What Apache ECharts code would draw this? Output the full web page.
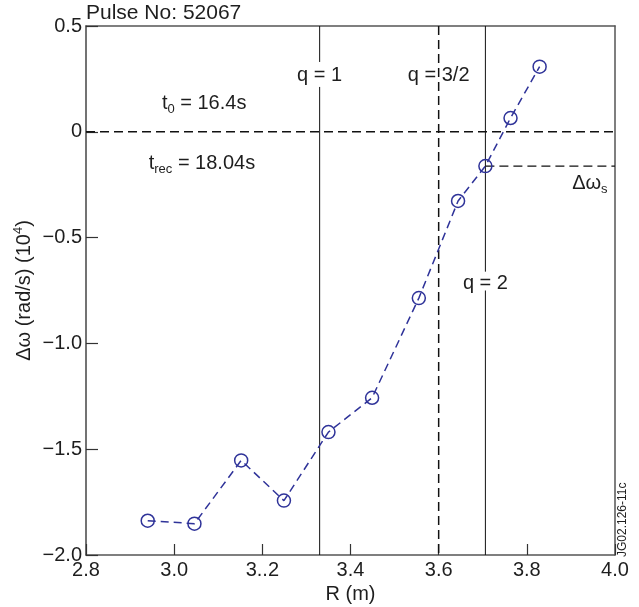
<!DOCTYPE html>
<html>
<head>
<meta charset="utf-8">
<title>Pulse No: 52067</title>
<script src="https://cdn.jsdelivr.net/npm/echarts@6/dist/echarts.min.js"></script>
<style>
  html, body { margin: 0; padding: 0; background: #fff; }
  #chart { width: 639px; height: 607px; }
</style>
</head>
<body>
<div id="chart"></div>
<script>
// Rotation shear profile across the major radius
const radius = [2.940, 3.046, 3.152, 3.249, 3.350, 3.449, 3.555, 3.644, 3.706, 3.763, 3.829];
const deltaOmega = [-1.838, -1.852, -1.553, -1.743, -1.419, -1.257, -0.786, -0.327, -0.162, 0.065, 0.308];

// Axis tick labels
const xTickLabels = ['2.8', '3.0', '3..2', '3.4', '3.6', '3.8', '4.0'];
const yTickLabels = ['\u22122.0', '\u22121.5', '\u22121.0', '\u22120.5', '0', '0.5'];

// Rational surface positions (m)
const qOneR = 3.33;
const qThreeHalvesR = 3.60;
const qTwoR = 3.706;
// Shear value at the q = 2 surface
const deltaOmegaS = -0.162;

const FONT = '"Liberation Sans", Arial, Helvetica, sans-serif';
const INK = '#1e1e1e';
const BLUE = '#2f3399';

const mainRich = {
  t: { fontSize: 20, fontFamily: FONT, color: INK, lineHeight: 26, verticalAlign: 'middle', textBorderWidth: 0 },
  s: { fontSize: 13, fontFamily: FONT, color: INK, lineHeight: 14, verticalAlign: 'bottom', textBorderWidth: 0 }
};

function refLine(data, dashed, width) {
  return {
    type: 'line',
    data: data,
    symbol: 'none',
    silent: true,
    animation: false,
    z: 1,
    lineStyle: { color: '#111', width: width, type: dashed ? [9, 5] : 'solid' }
  };
}

const chart = echarts.init(document.getElementById('chart'), null, { renderer: 'canvas' });

chart.setOption({
  animation: false,
  backgroundColor: '#fff',
  title: {
    text: 'Pulse No: 52067',
    left: 86,
    top: 3,
    padding: 0,
    textStyle: { fontSize: 21, fontWeight: 'normal', fontFamily: FONT, color: INK }
  },
  grid: { left: 86, right: 24, top: 26, bottom: 52, containLabel: false, outerBoundsMode: 'none' },
  xAxis: [{
    type: 'value',
    position: 'bottom',
    min: 2.8,
    max: 4.0,
    interval: 0.2,
    name: 'R (m)',
    nameLocation: 'middle',
    nameGap: 25,
    nameTextStyle: { fontSize: 20, fontFamily: FONT, color: INK },
    axisLine: { show: true, onZero: false, lineStyle: { color: '#555', width: 1.5 } },
    axisTick: { show: true, inside: true, length: 11, lineStyle: { color: '#333', width: 1.2 } },
    axisLabel: {
      margin: 5,
      fontSize: 20,
      fontFamily: FONT,
      color: INK,
      formatter: function (v) { return xTickLabels[Math.round((v - 2.8) / 0.2)]; }
    },
    splitLine: { show: false }
  }, {
    type: 'value',
    position: 'top',
    min: 2.8,
    max: 4.0,
    axisLine: { show: true, onZero: false, lineStyle: { color: '#555', width: 1.5 } },
    axisTick: { show: false },
    axisLabel: { show: false },
    splitLine: { show: false }
  }],
  yAxis: [{
    type: 'value',
    position: 'left',
    min: -2.0,
    max: 0.5,
    interval: 0.5,
    name: '{a|\u0394\u03c9 (rad/s) (10}{b|4}{a|)}',
    nameLocation: 'middle',
    nameGap: 50,
    nameMoveOverlap: false,
    nameTextStyle: {
      rich: {
        a: { fontSize: 20, fontFamily: FONT, color: INK, lineHeight: 24, verticalAlign: 'middle' },
        b: { fontSize: 13, fontFamily: FONT, color: INK, lineHeight: 14, verticalAlign: 'top' }
      }
    },
    axisLine: { show: true, onZero: false, lineStyle: { color: '#444', width: 1.5 } },
    axisTick: { show: true, inside: true, length: 12, lineStyle: { color: '#333', width: 1.2 } },
    axisLabel: {
      margin: 4,
      fontSize: 20,
      fontFamily: FONT,
      color: INK,
      formatter: function (v) { return yTickLabels[Math.round((v + 2.0) / 0.5)]; }
    },
    splitLine: { show: false }
  }, {
    type: 'value',
    position: 'right',
    min: -2.0,
    max: 0.5,
    axisLine: { show: true, onZero: false, lineStyle: { color: '#555', width: 1.5 } },
    axisTick: { show: false },
    axisLabel: { show: false },
    splitLine: { show: false }
  }],
  graphic: [{
    type: 'text',
    x: 623,
    y: 557,
    rotation: Math.PI / 2,
    style: {
      text: 'JG02.126-11c',
      fontSize: 12,
      fontFamily: FONT,
      fill: INK,
      align: 'left',
      verticalAlign: 'middle'
    }
  }],
  series: [
    // zero level
    refLine([[2.8, 0], [4.0, 0]], true, 1.4),
    // q = 1 surface, broken around its label
    refLine([[qOneR, 0.5], [qOneR, 0.33], ['-', '-'], [qOneR, 0.212], [qOneR, -2.0]], false, 1),
    // q = 3/2 surface
    refLine([[qThreeHalvesR, 0.5], [qThreeHalvesR, -2.0]], true, 1.5),
    // q = 2 surface, broken around its label
    refLine([[qTwoR, 0.5], [qTwoR, -0.661], ['-', '-'], [qTwoR, -0.75], [qTwoR, -2.0]], false, 1),
    // shear level at q = 2
    refLine([[qTwoR, deltaOmegaS], [4.0, deltaOmegaS]], true, 1.4),
    {
      type: 'line',
      name: 'profile',
      data: radius.map(function (r, i) { return [r, deltaOmega[i]]; }),
      symbol: 'circle',
      symbolSize: 13,
      z: 3,
      lineStyle: { color: BLUE, width: 1.5, type: [8, 5] },
      itemStyle: { color: 'rgba(0,0,0,0)', borderColor: BLUE, borderWidth: 1.5 }
    },
    {
      type: 'scatter',
      name: 'annotations',
      symbol: 'circle',
      symbolSize: 1,
      itemStyle: { color: 'rgba(0,0,0,0)' },
      silent: true,
      z: 4,
      label: {
        show: true,
        position: 'inside',
        color: INK,
        opacity: 1,
        textBorderWidth: 0,
        rich: mainRich
      },
      data: [
        { value: [qOneR, 0.268], label: { formatter: '{t|q = 1}' } },
        { value: [qThreeHalvesR, 0.268], label: { formatter: '{t|q = 3/2}' } },
        { value: [qTwoR, -0.715], label: { formatter: '{t|q = 2}' } },
        { value: [3.068, 0.136], label: { formatter: '{t|t}{s|0}{t| = 16.4s}' } },
        { value: [3.063, -0.148], label: { formatter: '{t|t}{s|rec}{t| = 18.04s}' } },
        { value: [3.943, -0.242], label: { formatter: '{t|\u0394\u03c9}{s|s}' } }
      ]
    }
  ]
});
</script>
</body>
</html>
